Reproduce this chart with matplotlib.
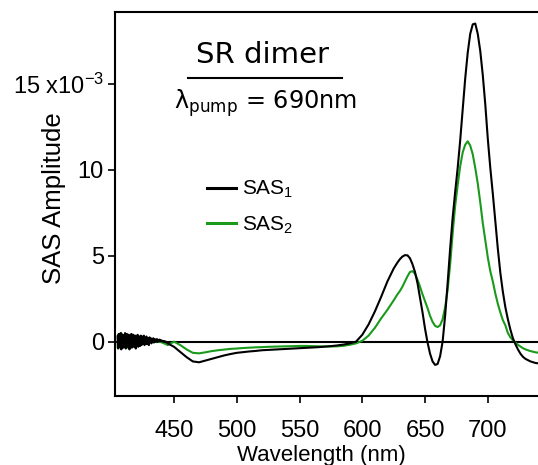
import numpy as np
import matplotlib
matplotlib.use("Agg")
import matplotlib.pyplot as plt
from matplotlib.lines import Line2D

plt.rcParams['font.family'] = ['Liberation Sans', 'DejaVu Sans']
plt.rcParams['mathtext.default'] = 'regular'

# ---- wavelength grid (nm) ----
wl_noise = np.arange(405, 445.1, 0.5)   # noisy blue edge, 0.5 nm steps
wl_mid = np.arange(450, 595, 5)         # flat middle, 5 nm steps
wl_tail = np.concatenate([[595, 600, 605, 610, 615, 620, 625],
                          np.arange(628, 731, 2),
                          [734, 738, 742]])

# ---- SAS 1 (units of 1e-3) ----
sas1_noise = [0.3, -0.4, 0.45, -0.3, 0.2, 0.5, -0.45, 0.1, 0.4, -0.35,
              0.35, -0.2, 0.5, -0.4, 0.15, 0.45, -0.3, 0.05, 0.4, -0.45,
              0.3, -0.1, 0.45, -0.35, 0.2, 0.4, -0.3, 0.1, 0.35, -0.4,
              0.25, -0.2, 0.4, -0.3, 0.3, 0.0, -0.25, 0.35, -0.2, 0.3,
              -0.15, 0.25, 0.35, -0.2, 0.2, -0.1, 0.3, -0.15, 0.2, 0.05,
              -0.2, 0.25, 0.0, 0.2, -0.1, 0.15, 0.05, 0.2, -0.05, 0.15,
              0.0, 0.12, 0.05, 0.15, 0.0, 0.1, 0.05, 0.12, 0.02, 0.08,
              0.03, 0.06, 0.0, 0.04, 0.0, 0.02, -0.02, 0.0, -0.05, -0.07,
              -0.1]
sas1_mid = [-0.3, -0.6, -0.9, -1.15, -1.2, -1.1, -1.0, -0.9, -0.8, -0.72,
            -0.65, -0.61, -0.57, -0.54, -0.5, -0.48, -0.46, -0.44, -0.42, -0.4,
            -0.38, -0.36, -0.34, -0.32, -0.29, -0.26, -0.22, -0.17, -0.1]
sas1_tail = [0.0, 0.4, 1.0, 1.75, 2.6, 3.5, 4.25,
             4.6, 4.8, 4.95, 5.03, 5.02, 4.85, 4.5, 4.05, 3.4, 2.55,
             1.7, 0.75, -0.05, -0.7, -1.15, -1.35, -1.3, -0.85, 0.0, 1.5,
             3.4, 5.4, 7.2, 8.7, 10.1, 11.7, 13.5, 15.3, 16.8, 17.9,
             18.45, 18.5, 17.9, 16.9, 15.5, 13.8, 11.8, 10.1, 8.6, 7.0,
             5.4, 4.0, 2.9, 2.0, 1.3, 0.7, 0.2, -0.15, -0.45, -0.7,
             -0.88, -1.0,
             -1.15, -1.24, -1.28]

# ---- SAS 2 (units of 1e-3) ----
sas2_noise = [-0.3, 0.4, -0.2, 0.45, 0.1, -0.4, 0.5, 0.0, -0.35, 0.4,
              0.2, -0.3, 0.45, -0.15, 0.35, 0.1, -0.35, 0.4, 0.0, 0.3,
              -0.25, 0.35, 0.1, -0.2, 0.4, 0.05, -0.2, 0.35, 0.0, 0.3,
              -0.1, 0.25, 0.15, -0.15, 0.3, 0.05, -0.1, 0.25, 0.1, 0.2,
              -0.05, 0.25, 0.1, 0.0, 0.2, 0.05, 0.15, 0.0, 0.2, 0.1,
              0.05, 0.15, 0.0, 0.12, 0.08, 0.15, 0.02, 0.1, 0.05, 0.1,
              0.0, 0.08, 0.02, 0.06, 0.0, 0.04, 0.0, 0.02, -0.02, 0.0,
              -0.04, -0.05, -0.06, -0.08, -0.1, -0.11, -0.13, -0.15, -0.16, -0.18,
              -0.2]
sas2_mid = [0.0, -0.2, -0.45, -0.65, -0.68, -0.62, -0.55, -0.5, -0.46, -0.42,
            -0.4, -0.37, -0.35, -0.33, -0.32, -0.3, -0.29, -0.28, -0.27, -0.26,
            -0.25, -0.25, -0.26, -0.27, -0.28, -0.28, -0.27, -0.24, -0.18]
sas2_tail = [-0.1, 0.05, 0.35, 0.8, 1.35, 1.85, 2.4,
             2.75, 2.95, 3.2, 3.5, 3.8, 4.05, 4.1, 3.95, 3.6, 3.2,
             2.75, 2.35, 1.95, 1.5, 1.15, 0.92, 0.85, 0.95, 1.3, 2.0,
             3.0, 4.5, 6.3, 7.9, 9.1, 10.2, 11.0, 11.45, 11.65, 11.4,
             10.9, 10.1, 9.2, 8.1, 6.9, 5.9, 4.9, 4.1, 3.5, 2.8,
             2.2, 1.7, 1.25, 0.95, 0.5, 0.25, 0.08, -0.05, -0.18, -0.28,
             -0.38, -0.45,
             -0.55, -0.62, -0.66]

wavelength = np.concatenate([wl_noise, wl_mid, wl_tail])
sas1 = np.concatenate([sas1_noise, sas1_mid, sas1_tail])
sas2 = np.concatenate([sas2_noise, sas2_mid, sas2_tail])

yticks = [0, 5, 10, 15]
ytick_labels = ['0', '5', '10', r'15 x10$^{-3}$']
xticks = [450, 500, 550, 600, 650, 700]

# ---- figure ----
fig = plt.figure(figsize=(5.38, 4.65), dpi=100)
ax = fig.add_axes([0.2138, 0.1484, 0.7862, 0.8258])

ax.axhline(0, color='black', lw=1.5, zorder=1)
ax.plot(wavelength, sas2, color='#1a9a1a', lw=1.5, zorder=2)
ax.plot(wavelength, sas1, color='black', lw=1.5, zorder=3)

ax.set_xlim(403, 740)
ax.set_ylim(-3.16, 19.17)
ax.set_xticks(xticks)
ax.set_yticks(yticks)
ax.set_yticklabels(ytick_labels)
ax.tick_params(direction='out', length=5, width=1.2, labelsize=17,
               top=False, right=False)
ax.tick_params(axis='x', pad=12)
ax.tick_params(axis='y', pad=3)
for side in ['left', 'bottom', 'top']:
    ax.spines[side].set_linewidth(1.5)
ax.spines['right'].set_visible(False)

ax.set_xlabel('Wavelength (nm)', fontsize=16)
ax.xaxis.set_label_coords(0.489, -0.155)
ax.xaxis.label.set_va('center')
ax.set_ylabel('SAS Amplitude', fontsize=18.5)
ax.yaxis.set_label_coords(-0.145, 0.516)
ax.yaxis.label.set_va('center')

# title block
fig.text(262 / 538, 1 - 55 / 465, 'SR dimer', fontsize=21, family='DejaVu Sans',
         ha='center', va='center')
fig.add_artist(Line2D([188 / 538, 342 / 538], [1 - 78 / 465, 1 - 78 / 465],
                      color='black', lw=1.5))
fig.text(266 / 538, 1 - 103 / 465, r'λ$_{pump}$ = 690nm', fontsize=17.3,
         family='DejaVu Sans', ha='center', va='center')

# legend
handles = [Line2D([], [], color='black', lw=2.2),
           Line2D([], [], color='#1a9a1a', lw=2.2)]
ax.legend(handles, ['SAS$_1$', 'SAS$_2$'], loc='upper left',
          bbox_to_anchor=(207 / 538, 1 - 179 / 465), bbox_transform=fig.transFigure,
          frameon=False, fontsize=15, handlelength=1.4, handletextpad=0.3,
          labelspacing=0.68, borderpad=0, borderaxespad=0)

fig.savefig('out.png', dpi=100)
